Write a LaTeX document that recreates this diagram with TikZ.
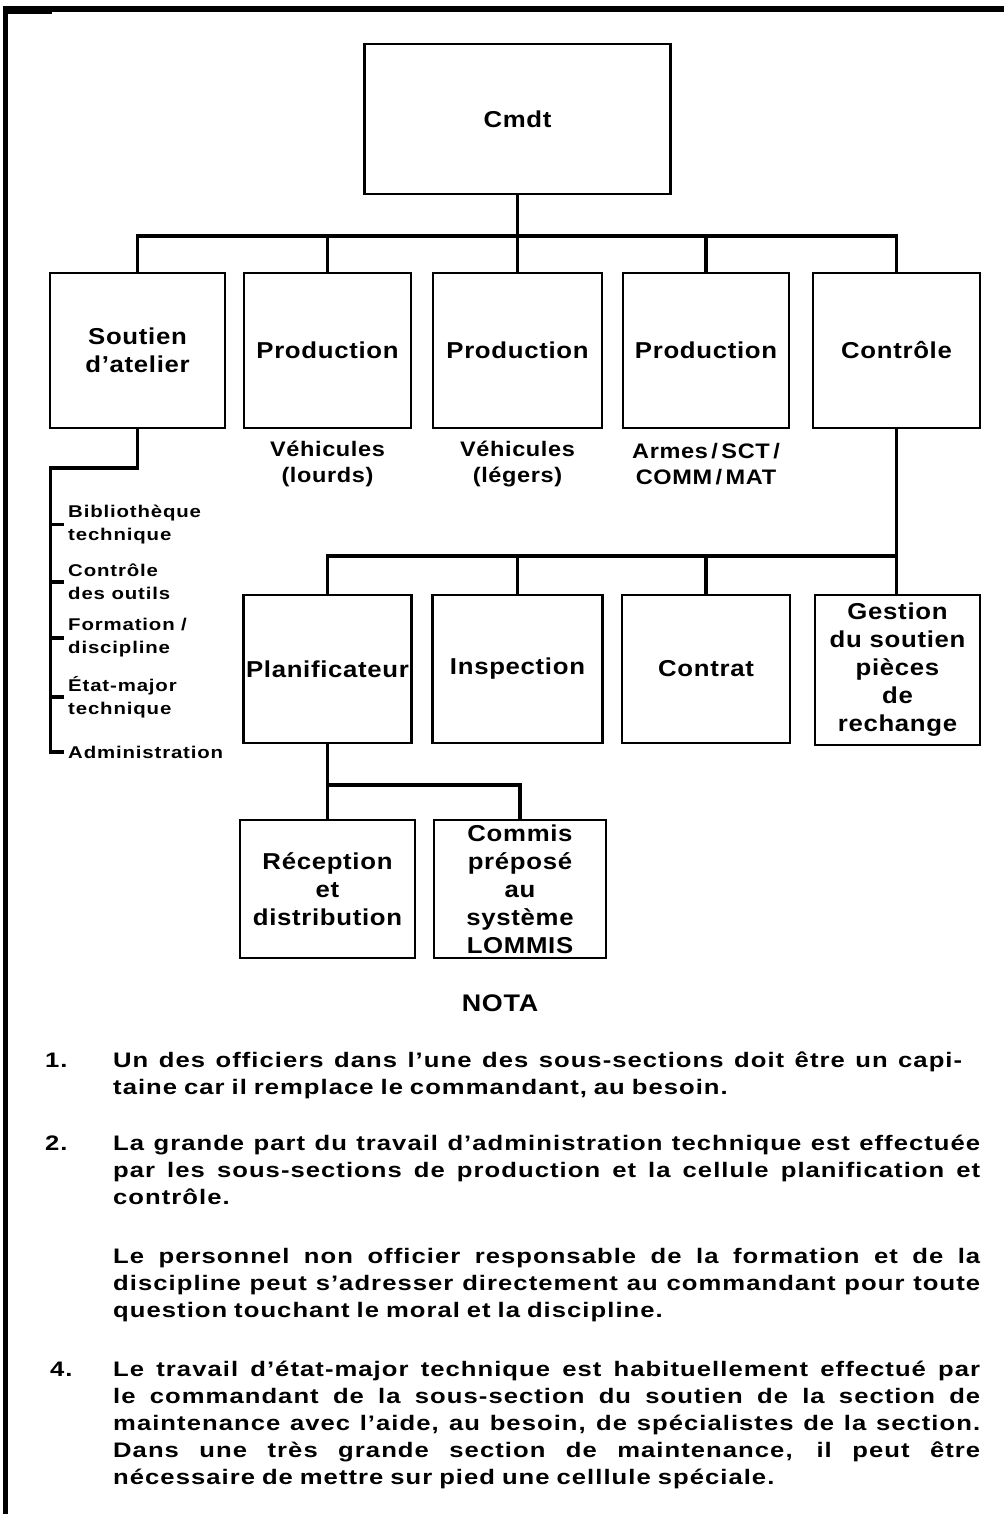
\documentclass[tikz,border=0pt]{standalone}
\usepackage{fontspec}
\setmainfont{Liberation Sans}
\newfontfamily\boxfnt[LetterSpace=3,FakeStretch=1.12]{Liberation Sans}
\newfontfamily\lstfnt[LetterSpace=5,FakeStretch=1.2]{Liberation Sans}
\newfontfamily\notefnt[LetterSpace=5,FakeStretch=1.22]{Liberation Sans}
\newcommand\notesetup{\fontsize{21}{27}\selectfont\spaceskip=0.33em plus 1.5em minus 0.2em\relax}
\begin{document}
\begin{tikzpicture}[x=1pt,y=-1pt,
  box/.style={draw,line width=2.6pt,inner sep=0pt,align=center,
    font={\boxfnt\bfseries\fontsize{23}{28}\selectfont}},
  lbl/.style={inner sep=0pt,align=center,font={\boxfnt\bfseries\fontsize{21}{26}\selectfont}},
  lst/.style={inner sep=0pt,align=left,anchor=west,font={\lstfnt\bfseries\fontsize{17}{23}\selectfont}},
  note/.style={inner sep=0pt,anchor=base west,font={\notefnt\bfseries\fontsize{21}{27}\selectfont}},
  conn/.style={line width=3.2pt,line cap=rect,line join=miter}]
\useasboundingbox (0,0) rectangle (1004,1514);
\fill[white] (0,0) rectangle (1004,1514);
% page border
\fill[black] (3,6) rectangle (1004,12);
\fill[black] (3,6) rectangle (8,1514);
\fill[black] (3,12) rectangle (52,14);

% boxes
\node[box,minimum width=306pt,minimum height=150pt] (cmdt) at (517.5,119) {Cmdt};
\node[box,minimum width=175pt,minimum height=155pt] (soutien) at (137.5,350.5) {Soutien\\d’atelier};
\node[box,minimum width=167pt,minimum height=155pt] (prod1) at (327.5,350.5) {Production};
\node[box,minimum width=169pt,minimum height=155pt] (prod2) at (517.5,350.5) {Production};
\node[box,minimum width=166pt,minimum height=155pt] (prod3) at (706,350.5) {Production};
\node[box,minimum width=167pt,minimum height=155pt] (controle) at (896.5,350.5) {Contrôle};

\node[lbl] (l1) at (327.5,464) {Véhicules\\(lourds)};
\node[lbl] (l2) at (517.5,464) {Véhicules\\(légers)};
\node[lbl] (l3) at (706,464) {Armes\,/\,SCT\,/\\COMM\,/\,MAT};

\node[box,minimum width=168pt,minimum height=148pt] (plan) at (327.5,669) {Planificateur};
\node[box,minimum width=170pt,minimum height=148pt] (insp) at (517.5,669) {Inspection};
\node[box,minimum width=168pt,minimum height=148pt] (contrat) at (706,669) {Contrat};
\node[box,minimum width=165pt,minimum height=150pt] (gestion) at (897.5,670) {Gestion\\du soutien\\pièces\\de\\rechange};

\node[box,minimum width=175pt,minimum height=138pt] (recep) at (327.5,889) {Réception\\et\\distribution};
\node[box,minimum width=172pt,minimum height=138pt] (commis) at (520,889) {Commis\\préposé\\au\\système\\LOMMIS};

% list under Soutien d'atelier
\node[lst] (i1) at (68,524.5) {Bibliothèque\\technique};
\node[lst] (i2) at (68,582) {Contrôle\\des outils};
\node[lst] (i3) at (68,638) {Formation /\\discipline};
\node[lst] (i4) at (68,697) {État-major\\technique};
\node[lst] (i5) at (68,752) {Administration};

% connectors level 1
\coordinate (b1) at (0,236);
\draw[conn] (cmdt.south) -- (cmdt.south |- b1);
\draw[conn] (soutien.north |- b1) -- (controle.north |- b1);
\foreach \n in {soutien,prod1,prod2,prod3,controle}
  \draw[conn] (\n.north |- b1) -- (\n.north);

% soutien list
\coordinate (spine) at (50.5,468);
\draw[conn] (soutien.south) |- (spine) -- (spine |- i5.west) -- ([xshift=-6pt]i5.west);
\foreach \n in {i1,i2,i3,i4}
  \draw[conn] (spine |- \n.west) -- ([xshift=-6pt]\n.west);

% connectors level 2
\coordinate (b2) at (0,556);
\draw[conn] (controle.south) -- (controle.south |- b2);
\draw[conn] (plan.north |- b2) -- (controle.south |- b2);
\foreach \n in {plan,insp,contrat}
  \draw[conn] (\n.north |- b2) -- (\n.north);
\draw[conn] (controle.south |- b2) -- (controle.south |- gestion.north);

% connectors level 3
\coordinate (b3) at (0,785);
\draw[conn] (plan.south) -- (plan.south |- b3) -| (commis.north);
\draw[conn] (recep.north |- b3) -- (recep.north);

% notes
\node[inner sep=0pt,font={\boxfnt\bfseries\fontsize{24}{28}\selectfont}] (nota) at (500,1003) {NOTA};

\node[note] (k1) at (45,1067) {1.};
\node[note] (n1) at (113,1067) {\parbox[t]{867pt}{\notesetup
\makebox[849pt][s]{Un des officiers dans l’une des sous-sections doit être un capi-}\\
\makebox[867pt][l]{taine car il remplace le commandant, au besoin.}}};

\node[note] (k2) at (45,1150) {2.};
\node[note] (n2) at (113,1150) {\parbox[t]{867pt}{\notesetup
\makebox[867pt][s]{La grande part du travail d’administration technique est effectuée}\\
\makebox[867pt][s]{par les sous-sections de production et la cellule planification et}\\
\makebox[867pt][l]{contrôle.}}};

\node[note] (n3) at (113,1263) {\parbox[t]{867pt}{\notesetup
\makebox[867pt][s]{Le personnel non officier responsable de la formation et de la}\\
\makebox[867pt][s]{discipline peut s’adresser directement au commandant pour toute}\\
\makebox[867pt][l]{question touchant le moral et la discipline.}}};

\node[note] (k4) at (50,1376) {4.};
\node[note] (n4) at (113,1376) {\parbox[t]{867pt}{\notesetup
\makebox[867pt][s]{Le travail d’état-major technique est habituellement effectué par}\\
\makebox[867pt][s]{le commandant de la sous-section du soutien de la section de}\\
\makebox[867pt][s]{maintenance avec l’aide, au besoin, de spécialistes de la section.}\\
\makebox[867pt][s]{Dans une très grande section de maintenance, il peut être}\\
\makebox[867pt][l]{nécessaire de mettre sur pied une celllule spéciale.}}};
\end{tikzpicture}
\end{document}
